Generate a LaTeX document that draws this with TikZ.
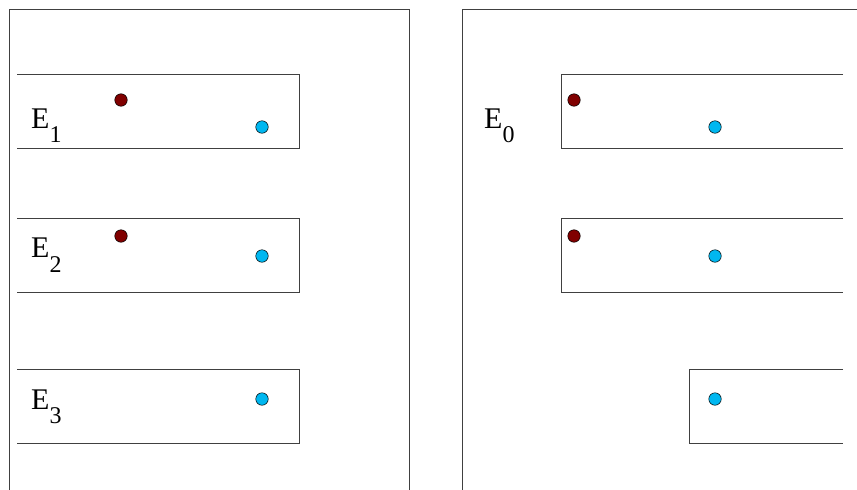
\documentclass[tikz,border=0pt]{standalone}
\usepackage{fontspec}
\setmainfont{Liberation Serif}
\begin{document}
\begin{tikzpicture}[x=1pt,y=-1pt,
  frame/.style={draw=black!75,line width=0.9pt},
  redot/.style={circle,draw=black,line width=0.5pt,fill={rgb,255:red,128;green,0;blue,0},minimum size=12.5pt,inner sep=0pt},
  bluedot/.style={circle,draw=black,line width=0.5pt,fill={rgb,255:red,0;green,183;blue,240},minimum size=12.5pt,inner sep=0pt},
  elabel/.style={anchor=base west,inner sep=0pt,font=\fontsize{30}{30}\selectfont}]
\useasboundingbox (0,0) rectangle (857,490);
% panels
\draw[frame] (9,492) -- (9,9) -- (409,9) -- (409,492);
\draw[frame] (462,492) -- (462,9) -- (859,9);
% left boxes (open on left)
\draw[frame] (17,74) -- (299,74) -- (299,148) -- (17,148);
\draw[frame] (17,218) -- (299,218) -- (299,292) -- (17,292);
\draw[frame] (17,369) -- (299,369) -- (299,443) -- (17,443);
% right boxes (open on right)
\draw[frame] (843,74) -- (561,74) -- (561,148) -- (843,148);
\draw[frame] (843,218) -- (561,218) -- (561,292) -- (843,292);
\draw[frame] (843,369) -- (689,369) -- (689,443) -- (843,443);
% labels
\node[elabel] (e1) at (31,128) {E\raisebox{-14pt}{\fontsize{24}{24}\selectfont 1}};
\node[elabel] (e2) at (31,257) {E\raisebox{-15pt}{\fontsize{24}{24}\selectfont 2}};
\node[elabel] (e3) at (31,409) {E\raisebox{-14pt}{\fontsize{24}{24}\selectfont 3}};
\node[elabel] (e0) at (484,128) {E\raisebox{-14pt}{\fontsize{24}{24}\selectfont 0}};
% dots
\node[redot] (r1) at (121,100) {};
\node[bluedot] (b1) at (262,127) {};
\node[redot] (r2) at (121,236) {};
\node[bluedot] (b2) at (262,256) {};
\node[bluedot] (b3) at (262,399) {};
\node[redot] (r4) at (574,100) {};
\node[bluedot] (b4) at (715,127) {};
\node[redot] (r5) at (574,236) {};
\node[bluedot] (b5) at (715,256) {};
\node[bluedot] (b6) at (715,399) {};
\end{tikzpicture}
\end{document}
